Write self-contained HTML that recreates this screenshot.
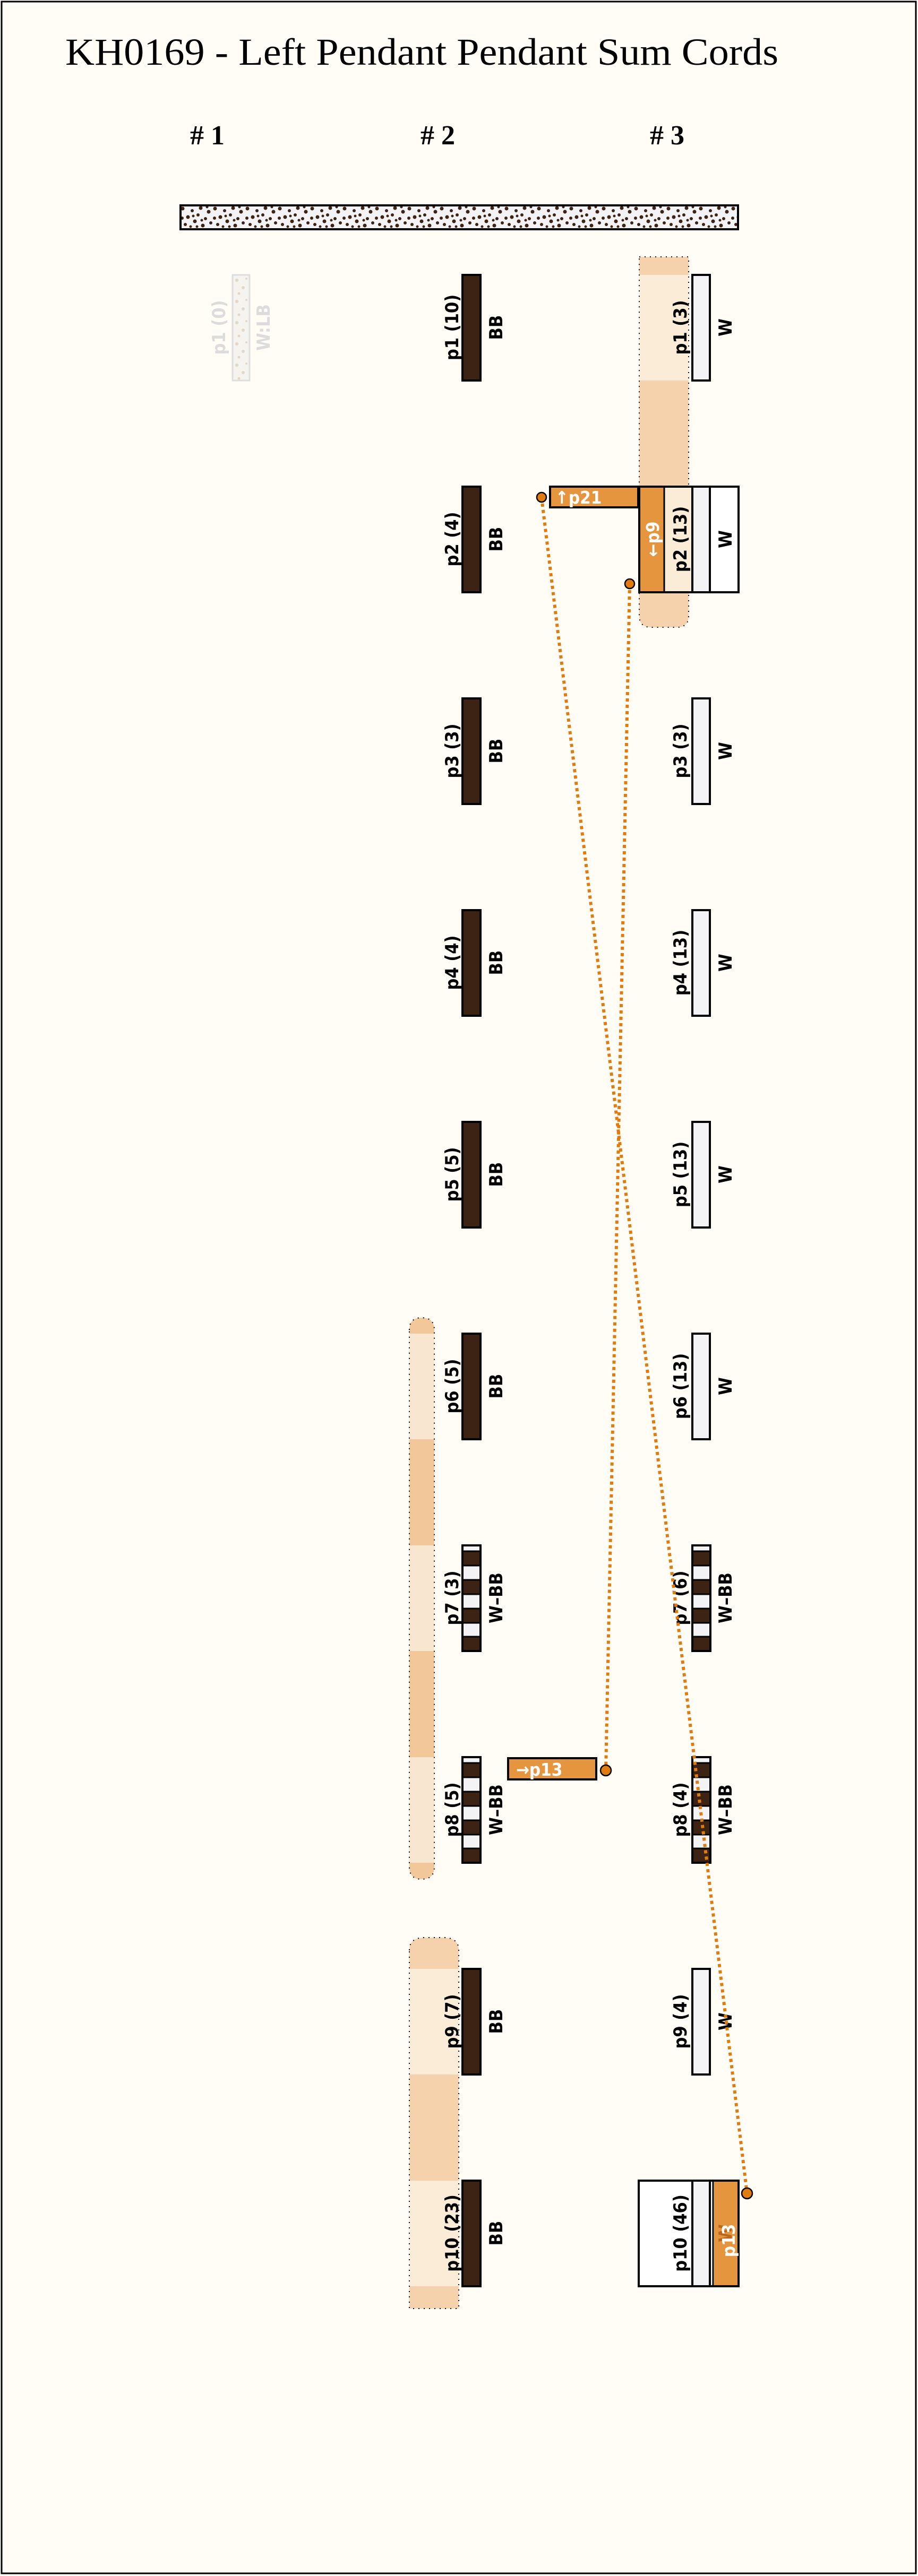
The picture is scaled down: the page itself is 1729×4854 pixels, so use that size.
<!DOCTYPE html>
<html><head><meta charset="utf-8"><style>
html,body{margin:0;padding:0;background:#fffdf6;}
svg{display:block;}
.lb{font-family:"DejaVu Sans Condensed","DejaVu Sans",sans-serif;font-weight:bold;font-size:34px;fill:#000;}
.wt{font-family:"DejaVu Sans Condensed","DejaVu Sans",sans-serif;font-weight:bold;font-size:33px;fill:#fff;}
</style></head><body>
<svg width="1729" height="4854" viewBox="0 0 1729 4854" xmlns="http://www.w3.org/2000/svg">
<defs>
<pattern id="dots" x="340" y="387" width="61" height="43" patternUnits="userSpaceOnUse">
<rect width="61" height="43" fill="#f3f3f5"/>
<g fill="#3d2314">
<circle cx="4" cy="6" r="3.5"/><circle cx="14" cy="22" r="3.5"/><circle cx="9" cy="36" r="3"/>
<circle cx="22" cy="10" r="3"/><circle cx="27" cy="30" r="3.5"/><circle cx="33" cy="18" r="3"/>
<circle cx="38" cy="5" r="3.5"/><circle cx="42" cy="38" r="3.5"/><circle cx="47" cy="25" r="3"/>
<circle cx="53" cy="12" r="3.5"/><circle cx="57" cy="33" r="3"/><circle cx="19" cy="40" r="2.5"/>
<circle cx="31" cy="40" r="2.5"/><circle cx="50" cy="3" r="2.5"/><circle cx="3" cy="24" r="3"/>
<circle cx="24" cy="20" r="2.5"/><circle cx="40" cy="28" r="2.5"/>
</g>
</pattern>
<pattern id="fdots" x="440" y="520" width="30" height="40" patternUnits="userSpaceOnUse">
<rect width="30" height="40" fill="#f5f3ee"/>
<g fill="#e3d8c8"><circle cx="6" cy="8" r="3"/><circle cx="18" cy="22" r="3"/><circle cx="10" cy="33" r="2.5"/><circle cx="24" cy="5" r="2"/></g>
</pattern>
</defs>
<rect x="0" y="0" width="1729" height="4854" fill="#fffdf6"/>
<rect x="3" y="3" width="1722" height="4846" fill="none" stroke="#000" stroke-width="3"/>

<text x="123" y="122" font-family="Liberation Serif,serif" font-size="72" textLength="1343" lengthAdjust="spacingAndGlyphs">KH0169 - Left Pendant Pendant Sum Cords</text>
<g font-family="Liberation Serif,serif" font-size="52" font-weight="bold">
<text x="358" y="272"># 1</text><text x="792" y="272"># 2</text><text x="1224" y="272"># 3</text>
</g>

<rect x="340" y="387" width="1050" height="45" fill="url(#dots)" stroke="#000" stroke-width="4"/>

<path d="M1204 484 H1297 V1160 Q1297 1182 1275 1182 H1226 Q1204 1182 1204 1160 Z" fill="#f5d2ab"/>
<rect x="1204" y="518" width="93" height="199" fill="#fbecd8"/>
<path d="M1204 484 H1297 V1160 Q1297 1182 1275 1182 H1226 Q1204 1182 1204 1160 Z" fill="none" stroke="#000" stroke-width="2" stroke-dasharray="2 8"/>
<path d="M771 2506 Q771 2483 794 2483 Q818 2483 818 2506 V3518 Q818 3541 794 3541 Q771 3541 771 3518 Z" fill="#f2c89a"/>
<rect x="771" y="2513" width="47" height="199" fill="#f9e6d0"/>
<rect x="771" y="2912" width="47" height="199" fill="#f9e6d0"/>
<rect x="771" y="3311" width="47" height="199" fill="#f9e6d0"/>
<path d="M771 2506 Q771 2483 794 2483 Q818 2483 818 2506 V3518 Q818 3541 794 3541 Q771 3541 771 3518 Z" fill="none" stroke="#000" stroke-width="2" stroke-dasharray="2 8"/>
<path d="M771 3675 Q771 3651 800 3651 H835 Q864 3651 864 3675 V4350 H771 Z" fill="#f5d2ab"/>
<rect x="771" y="3710" width="93" height="199" fill="#fbecd8"/>
<rect x="771" y="4109" width="93" height="199" fill="#fbecd8"/>
<path d="M771 3675 Q771 3651 800 3651 H835 Q864 3651 864 3675 V4350 H771 Z" fill="none" stroke="#000" stroke-width="2" stroke-dasharray="2 8"/>

<rect x="438" y="518" width="32" height="199" fill="url(#fdots)" stroke="#dedede" stroke-width="3"/>
<text class="lb" transform="translate(424 617) rotate(-90)" text-anchor="middle" style="fill:#dcdcdc">p1 (0)</text>
<text class="lb" transform="translate(508 617) rotate(-90)" text-anchor="middle" style="fill:#dcdcdc">W:LB</text>

<g stroke="#000" stroke-width="4">
<rect x="871" y="518" width="34" height="199" fill="#3d2314"/>
<rect x="871" y="917" width="34" height="199" fill="#3d2314"/>
<rect x="871" y="1316" width="34" height="199" fill="#3d2314"/>
<rect x="871" y="1715" width="34" height="199" fill="#3d2314"/>
<rect x="871" y="2114" width="34" height="199" fill="#3d2314"/>
<rect x="871" y="2513" width="34" height="199" fill="#3d2314"/>
<rect x="871" y="3710" width="34" height="199" fill="#3d2314"/>
<rect x="871" y="4109" width="34" height="199" fill="#3d2314"/>
</g>
<g id="s1">
<rect x="871" y="2912" width="34" height="199" fill="#3d2314"/>
<g fill="#f3f3f5"><rect x="871" y="2912" width="34" height="11"/><rect x="871" y="2950" width="34" height="27"/><rect x="871" y="3004" width="34" height="27"/><rect x="871" y="3058" width="34" height="26"/></g>
<rect x="871" y="2912" width="34" height="199" fill="none" stroke="#000" stroke-width="4"/>
<g stroke="#000" stroke-width="3"><line x1="871" y1="2923" x2="905" y2="2923"/><line x1="871" y1="2950" x2="905" y2="2950"/><line x1="871" y1="2977" x2="905" y2="2977"/><line x1="871" y1="3004" x2="905" y2="3004"/><line x1="871" y1="3031" x2="905" y2="3031"/><line x1="871" y1="3058" x2="905" y2="3058"/><line x1="871" y1="3084" x2="905" y2="3084"/></g>
</g>
<use href="#s1" transform="translate(0 399)"/>
<use href="#s1" transform="translate(433 0)"/>
<use href="#s1" transform="translate(433 399)"/>

<g class="lb" text-anchor="middle">
<text transform="translate(863 617) rotate(-90)">p1 (10)</text>
<text transform="translate(863 1016) rotate(-90)">p2 (4)</text>
<text transform="translate(863 1415) rotate(-90)">p3 (3)</text>
<text transform="translate(863 1814) rotate(-90)">p4 (4)</text>
<text transform="translate(863 2213) rotate(-90)">p5 (5)</text>
<text transform="translate(863 2612) rotate(-90)">p6 (5)</text>
<text transform="translate(863 3011) rotate(-90)">p7 (3)</text>
<text transform="translate(863 3410) rotate(-90)">p8 (5)</text>
<text transform="translate(863 3809) rotate(-90)">p9 (7)</text>
<text transform="translate(863 4208) rotate(-90)">p10 (23)</text>
<text transform="translate(946 617) rotate(-90)">BB</text>
<text transform="translate(946 1016) rotate(-90)">BB</text>
<text transform="translate(946 1415) rotate(-90)">BB</text>
<text transform="translate(946 1814) rotate(-90)">BB</text>
<text transform="translate(946 2213) rotate(-90)">BB</text>
<text transform="translate(946 2612) rotate(-90)">BB</text>
<text transform="translate(946 3011) rotate(-90)">W–BB</text>
<text transform="translate(946 3410) rotate(-90)">W–BB</text>
<text transform="translate(946 3809) rotate(-90)">BB</text>
<text transform="translate(946 4208) rotate(-90)">BB</text>
</g>

<rect x="1204" y="917" width="187" height="199" fill="#fff"/>
<rect x="1204" y="917" width="47" height="199" fill="#e6953f"/>
<rect x="1251" y="917" width="53" height="199" fill="#fbecd8"/>
<rect x="1204" y="917" width="187" height="199" fill="none" stroke="#000" stroke-width="4"/>
<line x1="1251" y1="917" x2="1251" y2="1116" stroke="#000" stroke-width="3"/>
<rect x="1203" y="4109" width="188" height="199" fill="#fff"/>
<rect x="1345" y="4109" width="46" height="199" fill="#e6953f"/>
<rect x="1203" y="4109" width="188" height="199" fill="none" stroke="#000" stroke-width="4"/>
<line x1="1343" y1="4109" x2="1343" y2="4308" stroke="#000" stroke-width="3"/>

<g stroke="#000" stroke-width="4" fill="#f3f3f5">
<rect x="1304" y="518" width="33" height="199"/>
<rect x="1304" y="917" width="33" height="199"/>
<rect x="1304" y="1316" width="33" height="199"/>
<rect x="1304" y="1715" width="33" height="199"/>
<rect x="1304" y="2114" width="33" height="199"/>
<rect x="1304" y="2513" width="33" height="199"/>
<rect x="1304" y="3710" width="33" height="199"/>
<rect x="1304" y="4109" width="33" height="199"/>
</g>

<g class="lb" text-anchor="middle">
<text transform="translate(1293 617) rotate(-90)">p1 (3)</text>
<text transform="translate(1293 1016) rotate(-90)">p2 (13)</text>
<text transform="translate(1293 1415) rotate(-90)">p3 (3)</text>
<text transform="translate(1293 1814) rotate(-90)">p4 (13)</text>
<text transform="translate(1293 2213) rotate(-90)">p5 (13)</text>
<text transform="translate(1293 2612) rotate(-90)">p6 (13)</text>
<text transform="translate(1293 3011) rotate(-90)">p7 (6)</text>
<text transform="translate(1293 3410) rotate(-90)">p8 (4)</text>
<text transform="translate(1293 3809) rotate(-90)">p9 (4)</text>
<text transform="translate(1293 4208) rotate(-90)">p10 (46)</text>
<text transform="translate(1378 617) rotate(-90)">W</text>
<text transform="translate(1378 1016) rotate(-90)">W</text>
<text transform="translate(1378 1415) rotate(-90)">W</text>
<text transform="translate(1378 1814) rotate(-90)">W</text>
<text transform="translate(1378 2213) rotate(-90)">W</text>
<text transform="translate(1378 2612) rotate(-90)">W</text>
<text transform="translate(1378 3011) rotate(-90)">W–BB</text>
<text transform="translate(1378 3410) rotate(-90)">W–BB</text>
<text transform="translate(1378 3809) rotate(-90)">W</text>
<text transform="translate(1378 4208) rotate(-90)" style="fill:#b8671d">W</text>
</g>

<rect x="1036" y="917" width="166" height="39" fill="#e6953f" stroke="#000" stroke-width="4"/>
<text class="wt" x="1046" y="949">↑p21</text>
<text class="wt" transform="translate(1241 1016) rotate(-90)" text-anchor="middle">←p9</text>
<rect x="957" y="3313" width="166" height="40" fill="#e6953f" stroke="#000" stroke-width="4"/>
<text class="wt" x="972" y="3346">→p13</text>
<text class="wt" transform="translate(1384 4222) rotate(-90)" text-anchor="middle">p13</text>

<g stroke="#e07b10" stroke-width="6" stroke-dasharray="6 6" fill="none">
<line x1="1020" y1="937" x2="1407" y2="4133"/>
<line x1="1186" y1="1100" x2="1141" y2="3336"/>
</g>
<g fill="#e07b10" stroke="#000" stroke-width="2.5">
<circle cx="1020" cy="937" r="9"/><circle cx="1186" cy="1100" r="9"/>
<circle cx="1141" cy="3336" r="10"/><circle cx="1407" cy="4133" r="10"/>
</g>
</svg>
</body></html>
